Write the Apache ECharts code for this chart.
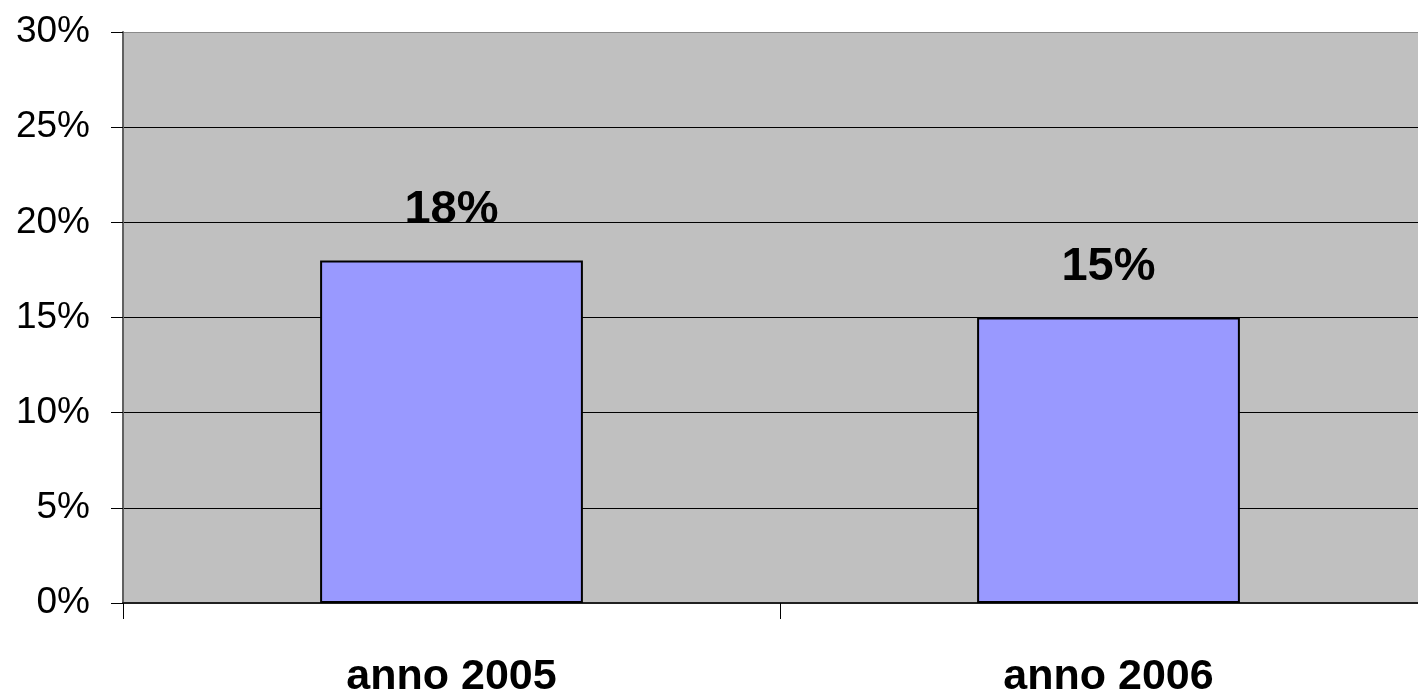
<!DOCTYPE html>
<html>
<head>
<meta charset="utf-8">
<script src="https://cdn.jsdelivr.net/npm/echarts@6/dist/echarts.min.js"></script>
<style>
  html, body { margin: 0; padding: 0; background: #fff; }
  #chart { width: 1418px; height: 697px; }
</style>
</head>
<body>
<div id="chart"></div>
<script>
  // dati del grafico
  var categories = ['anno 2005', 'anno 2006'];
  var values = [18, 15];
  var yTicks = [0, 5, 10, 15, 20, 25, 30];

  var chart = echarts.init(document.getElementById('chart'));
  var font = '"Liberation Sans", Arial, sans-serif';

  var option = {
    animation: false,
    grid: {
      left: 123,
      top: 32,
      width: 1314,
      height: 571,
      outerBoundsMode: 'none',
      show: true,
      backgroundColor: '#C0C0C0',
      borderWidth: 0
    },
    xAxis: {
      type: 'category',
      data: categories,
      axisLine: { lineStyle: { color: '#202020', width: 2 } },
      axisTick: { show: true, length: 16, lineStyle: { color: '#000', width: 1 } },
      axisLabel: {
        margin: 53,
        color: '#000',
        fontFamily: font,
        fontSize: 43,
        fontWeight: 'bold'
      }
    },
    yAxis: {
      type: 'value',
      min: yTicks[0],
      max: yTicks[yTicks.length - 1],
      interval: 5,
      axisLine: { show: true, lineStyle: { color: '#606060', width: 2 } },
      axisTick: { show: true, length: 12, lineStyle: { color: '#000' } },
      axisLabel: {
        margin: 33,
        formatter: '{value}%',
        color: '#000',
        fontFamily: font,
        fontSize: 37
      },
      splitLine: {
        show: true,
        lineStyle: {
          color: ['#000', '#000', '#000', '#000', '#000', '#000', '#8a8a8a'],
          width: 1
        }
      }
    },
    series: [{
      type: 'bar',
      data: values,
      barWidth: '40%',
      itemStyle: { color: '#9999FF', borderColor: '#000', borderWidth: 2 },
      label: {
        show: true,
        position: 'top',
        distance: 27,
        formatter: '{c}%',
        color: '#000',
        fontFamily: font,
        fontSize: 47,
        fontWeight: 'bold'
      }
    }]
  };
  chart.setOption(option);
</script>
</body>
</html>
